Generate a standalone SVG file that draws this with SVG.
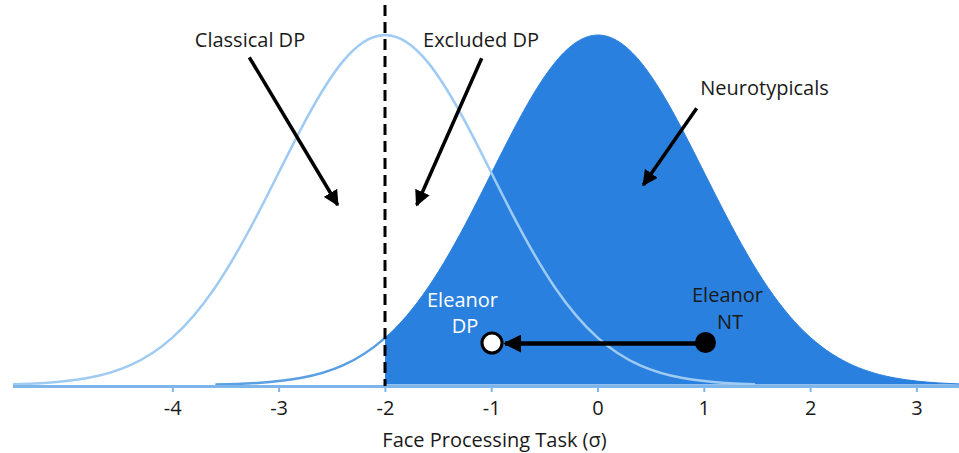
<svg xmlns="http://www.w3.org/2000/svg" xmlns:xlink="http://www.w3.org/1999/xlink" width="959" height="453" viewBox="0 0 959 453">
<defs>
<style>
text{font-family:"Open Sans","Liberation Sans",sans-serif;font-size:20px;text-anchor:middle;fill:#1a1a1a}
.w{fill:#ffffff}
.ptr{stroke:#000;stroke-width:3.5;fill:none}
.tick{stroke:#7fb6ea;stroke-width:2}
</style>
<path id="gauss" d="M-382.68,384.5 C-368.51,384.26 -354.33,383.8 -340.16,382.9 C-325.99,382.0 -311.81,380.68 -297.64,378.1 C-283.47,375.52 -269.29,371.67 -255.12,365.4 C-240.95,359.13 -226.77,350.24 -212.6,337.6 C-198.43,324.96 -184.25,308.46 -170.08,287.7 C-155.91,266.94 -141.73,241.86 -127.56,214.6 C-113.39,187.34 -99.21,158.0 -85.04,130.9 C-70.87,103.8 -56.69,79.13 -42.52,61.9 C-28.35,44.67 -14.17,35 0,35 C14.17,35 28.35,44.67 42.52,61.9 C56.69,79.13 70.87,103.8 85.04,130.9 C99.21,158.0 113.39,187.34 127.56,214.6 C141.73,241.86 155.91,266.94 170.08,287.7 C184.25,308.46 198.43,324.96 212.6,337.6 C226.77,350.24 240.95,359.13 255.12,365.4 C269.29,371.67 283.47,375.52 297.64,378.1 C311.81,380.68 325.99,382.0 340.16,382.9 C354.33,383.8 368.51,384.26 382.68,384.5"/>
<clipPath id="rightOfCut" clipPathUnits="userSpaceOnUse"><rect x="385" y="0" width="600" height="453"/></clipPath>
<clipPath id="leftOfCut" clipPathUnits="userSpaceOnUse"><rect x="0" y="0" width="385" height="453"/></clipPath>
<clipPath id="dpRange" clipPathUnits="userSpaceOnUse"><rect x="13" y="0" width="742" height="453"/></clipPath>
<marker id="ah" viewBox="0 0 10 10" refX="9" refY="5" markerWidth="4.5" markerHeight="4.5" orient="auto" markerUnits="strokeWidth">
<path d="M0,0 L10,5 L0,10 z" fill="#000"/>
</marker>
<marker id="ah2" viewBox="0 0 10 10" refX="9" refY="5" markerWidth="4" markerHeight="4" orient="auto" markerUnits="strokeWidth">
<path d="M0,0 L10,5 L0,10 z" fill="#000"/>
</marker>
</defs>
<rect width="959" height="453" fill="#ffffff"/>
<g id="nt-curve">
<g clip-path="url(#rightOfCut)">
<use href="#gauss" xlink:href="#gauss" transform="translate(598,0)" fill="#2a80de" stroke="#2a80de" stroke-width="1"/>
</g>
<g clip-path="url(#leftOfCut)">
<use href="#gauss" xlink:href="#gauss" transform="translate(598,0)" fill="none" stroke="#5a9fe4" stroke-width="2.5"/>
</g>
</g>
<g id="dp-curve" clip-path="url(#dpRange)">
<use href="#gauss" xlink:href="#gauss" transform="translate(385,0)" fill="none" stroke="#9fcbf3" stroke-width="2.5"/>
</g>
<g id="axis">
<line x1="13" y1="386.5" x2="959" y2="386.5" stroke="#7fb6ea" stroke-width="3"/>
<line class="tick" x1="172.8" y1="386" x2="172.8" y2="392"/>
<line class="tick" x1="279.1" y1="386" x2="279.1" y2="392"/>
<line class="tick" x1="385.4" y1="386" x2="385.4" y2="392"/>
<line class="tick" x1="491.7" y1="386" x2="491.7" y2="392"/>
<line class="tick" x1="598" y1="386" x2="598" y2="392"/>
<line class="tick" x1="704.3" y1="386" x2="704.3" y2="392"/>
<line class="tick" x1="810.6" y1="386" x2="810.6" y2="392"/>
<line class="tick" x1="916.9" y1="386" x2="916.9" y2="392"/>
<text x="172.8" y="415">-4</text>
<text x="279.1" y="415">-3</text>
<text x="385.4" y="415">-2</text>
<text x="491.7" y="415">-1</text>
<text x="598" y="415">0</text>
<text x="704.3" y="415">1</text>
<text x="810.6" y="415">2</text>
<text x="916.9" y="415">3</text>
<text x="494.5" y="447">Face Processing Task (σ)</text>
</g>
<g id="cutoff">
<line x1="385" y1="5" x2="385" y2="386" stroke="#000" stroke-width="3" stroke-dasharray="11,6"/>
</g>
<g id="connectors">
<line class="ptr" x1="249.3" y1="57.3" x2="337.7" y2="205" marker-end="url(#ah)"/>
<line class="ptr" x1="481.7" y1="58.3" x2="416.7" y2="205" marker-end="url(#ah)"/>
<line class="ptr" x1="696.7" y1="108.3" x2="643.3" y2="185" marker-end="url(#ah)"/>
<line x1="705" y1="343.5" x2="505" y2="343.5" stroke="#000" stroke-width="4.5" marker-end="url(#ah2)"/>
</g>
<g id="classical-dp">
<text x="250" y="47">Classical DP</text>
</g>
<g id="excluded-dp">
<text x="481" y="47">Excluded DP</text>
</g>
<g id="neurotypicals">
<text x="764.5" y="94.5">Neurotypicals</text>
</g>
<g id="eleanor-dp">
<text class="w" x="462.5" y="306.5">Eleanor</text>
<text class="w" x="465" y="333">DP</text>
<circle cx="492" cy="343" r="10" fill="#ffffff" stroke="#000" stroke-width="3"/>
</g>
<g id="eleanor-nt">
<text x="727.5" y="302">Eleanor</text>
<text x="730" y="328.5">NT</text>
<circle cx="705.5" cy="342.5" r="10.5" fill="#000"/>
</g>
</svg>
